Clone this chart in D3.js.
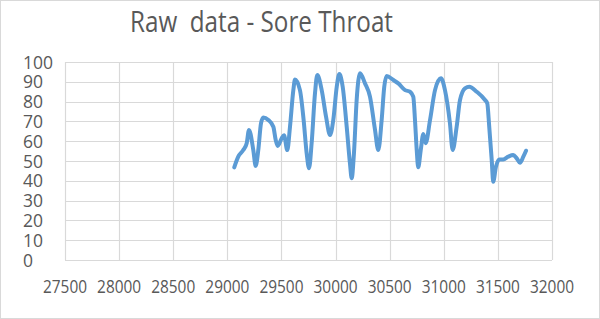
<!DOCTYPE html>
<html>
<head>
<meta charset="utf-8">
<script src="https://cdn.jsdelivr.net/npm/d3@7"></script>
<style>
  body { margin: 0; background: #fff; }
  svg { display: block; }
</style>
</head>
<body>
<svg id="chart"></svg>
<script>
// data (x = time index, y = score)
const xValues = [29064, 29101, 29147, 29179, 29200, 29240, 29262, 29286, 29311, 29332,
  29379, 29425, 29447, 29465, 29502, 29524, 29554, 29579, 29610, 29625,
  29671, 29705, 29733, 29755, 29779, 29810, 29831, 29872, 29912, 29949,
  29979, 30011, 30035, 30066, 30103, 30133, 30149, 30170, 30195, 30226,
  30272, 30318, 30364, 30395, 30426, 30450, 30472, 30534, 30580, 30642,
  30688, 30718, 30734, 30750, 30764, 30787, 30811, 30833, 30873, 30919,
  30974, 31011, 31057, 31082, 31119, 31150, 31196, 31236, 31304, 31381,
  31402, 31420, 31443, 31457, 31482, 31513, 31550, 31596, 31642, 31674,
  31704, 31735, 31760];
const yValues = [46.8, 52.2, 55.5, 59, 65.7, 55.5, 47.5, 55.5, 69, 72,
  70.7, 67.3, 60.6, 57.6, 61.4, 63, 55.5, 67.3, 85.8, 91.2,
  85.8, 70.7, 53.9, 46.3, 59, 84.2, 93.4, 85.8, 72.4, 63.1,
  70.7, 87.5, 93.9, 87.5, 67.3, 48.8, 41.3, 53.9, 80.8, 94.3,
  89.2, 82.5, 66, 55.5, 70.7, 87.5, 92.9, 90.9, 89.2, 85.8,
  85, 82.5, 70.7, 55.5, 46.8, 55.5, 63.6, 59, 70.7, 85.8,
  91.8, 85.8, 69, 55.5, 67.3, 80.8, 86.7, 87.5, 85, 80.8,
  79.1, 67.3, 50.5, 39.5, 47.1, 50.8, 50.8, 52.2, 53, 51.3,
  49.1, 52.2, 55.2];
const xTicks = [27500, 28000, 28500, 29000, 29500, 30000, 30500, 31000, 31500, 32000];
const yTicks = [0, 10, 20, 30, 40, 50, 60, 70, 80, 90, 100];
const title = "Raw  data - Sore Throat";

const width = 600, height = 319;
const plot = { left: 65, right: 552, top: 62, bottom: 260 };

const svg = d3.select("#chart")
  .attr("width", width)
  .attr("height", height);

svg.append("rect")
  .attr("x", 0.5).attr("y", 0.5)
  .attr("width", width - 1).attr("height", height - 1)
  .attr("fill", "#fff")
  .attr("stroke", "#d9d9d9");

const x = d3.scaleLinear().domain([27500, 32000]).range([plot.left, plot.right]);
const y = d3.scaleLinear().domain([0, 100]).range([plot.bottom, plot.top]);

// grid
const grid = svg.append("g").attr("stroke", "#d9d9d9").attr("stroke-width", 1.2);
grid.selectAll("line.h")
  .data(yTicks)
  .join("line")
  .attr("class", "h")
  .attr("x1", plot.left).attr("x2", plot.right)
  .attr("y1", d => Math.round(y(d)) + 0.5).attr("y2", d => Math.round(y(d)) + 0.5);
grid.selectAll("line.v")
  .data(xTicks)
  .join("line")
  .attr("class", "v")
  .attr("y1", plot.top).attr("y2", plot.bottom)
  .attr("x1", d => Math.round(x(d)) + 0.5).attr("x2", d => Math.round(x(d)) + 0.5);

// axis labels
const font = "'Open Sans', sans-serif";
svg.append("g")
  .selectAll("text")
  .data(yTicks)
  .join("text")
  .attr("x", 23)
  .attr("y", d => y(d) + 6.5)
  .attr("font-family", font)
  .attr("font-size", 17.5)
  .attr("fill", "#595959")
  .text(d => d);

svg.append("g")
  .selectAll("text")
  .data(xTicks)
  .join("text")
  .attr("x", d => x(d) - 22)
  .attr("y", 292.5)
  .attr("font-family", font)
  .attr("font-size", 17.5)
  .attr("fill", "#595959")
  .attr("textLength", 44)
  .attr("lengthAdjust", "spacingAndGlyphs")
  .text(d => d);

// title
svg.append("text")
  .attr("x", 130)
  .attr("y", 31.5)
  .attr("font-family", font)
  .attr("font-size", 29)
  .attr("fill", "#595959")
  .attr("textLength", 263)
  .attr("lengthAdjust", "spacingAndGlyphs")
  .attr("xml:space", "preserve")
  .style("white-space", "pre")
  .text(title);

// series
const points = xValues.map((v, i) => [v, yValues[i]]);
const line = d3.line()
  .x(d => x(d[0]))
  .y(d => y(d[1]))
  .curve(d3.curveMonotoneX);

svg.append("path")
  .datum(points)
  .attr("fill", "none")
  .attr("stroke", "#5b9bd5")
  .attr("stroke-width", 4)
  .attr("stroke-linejoin", "round")
  .attr("stroke-linecap", "round")
  .attr("d", line);
</script>
</body>
</html>
